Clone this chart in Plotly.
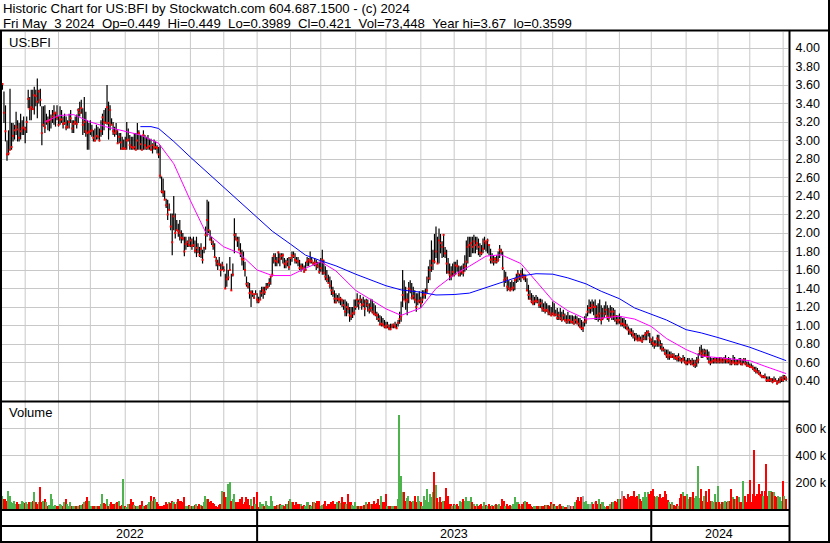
import plotly.graph_objects as go
import pandas as pd

# ---------------- data ----------------
high = [
3.62,3.53,3.38,3.00,3.11,3.56,3.19,3.19,3.17,3.31,
3.22,3.19,3.29,3.22,3.26,3.15,3.26,3.55,3.47,3.55,
3.55,3.58,3.55,3.67,3.55,3.56,3.37,3.37,3.38,3.29,
3.26,3.33,3.28,3.33,3.38,3.31,3.38,3.26,3.37,3.33,
3.26,3.29,3.26,3.22,3.29,3.33,3.22,3.22,3.26,3.28,
3.35,3.42,3.44,3.35,3.47,3.31,3.22,3.19,3.22,3.17,
3.11,3.13,3.17,3.15,3.13,3.22,3.29,3.33,3.35,3.60,
3.42,3.38,3.24,3.20,3.15,3.19,3.11,3.08,3.08,3.04,
3.01,3.04,3.20,3.13,3.06,3.04,3.04,3.08,3.08,3.19,
3.11,3.06,3.06,3.11,3.06,3.04,3.06,3.02,3.02,2.97,
3.01,2.99,2.95,2.93,2.95,2.61,2.59,2.46,2.37,2.36,
2.32,2.21,2.21,2.40,2.21,2.14,2.10,2.14,2.03,2.00,
1.96,1.96,1.92,1.96,1.96,1.94,1.96,1.92,1.96,1.89,
1.85,1.89,1.82,1.85,2.07,2.36,2.34,2.03,1.96,1.92,
1.89,1.74,1.71,1.74,1.67,1.69,1.64,1.56,1.67,1.60,
1.74,1.56,1.67,2.16,2.00,1.96,1.96,1.89,1.82,1.80,
1.69,1.53,1.47,1.46,1.38,1.38,1.35,1.38,1.35,1.31,
1.38,1.42,1.42,1.42,1.46,1.46,1.51,1.53,1.74,1.78,
1.78,1.74,1.80,1.78,1.78,1.78,1.73,1.71,1.73,1.74,
1.74,1.80,1.80,1.78,1.74,1.74,1.71,1.67,1.67,1.65,
1.69,1.74,1.73,1.80,1.74,1.69,1.73,1.71,1.69,1.69,
1.73,1.82,1.71,1.64,1.60,1.55,1.53,1.49,1.42,1.38,
1.35,1.33,1.35,1.31,1.29,1.28,1.28,1.26,1.24,1.20,
1.20,1.20,1.28,1.28,1.35,1.28,1.33,1.29,1.31,1.28,
1.29,1.28,1.24,1.29,1.28,1.24,1.22,1.15,1.13,1.11,
1.10,1.08,1.06,1.04,1.04,1.01,1.02,1.02,1.02,1.04,
1.02,1.06,1.15,1.26,1.60,1.49,1.42,1.35,1.47,1.49,
1.46,1.42,1.38,1.35,1.35,1.37,1.31,1.38,1.38,1.40,
1.53,1.64,1.71,1.92,1.82,1.99,2.07,1.96,2.05,1.99,
1.91,1.99,1.85,1.82,1.73,1.67,1.64,1.67,1.69,1.69,
1.71,1.65,1.64,1.65,1.67,1.76,1.92,1.96,1.96,1.96,
1.96,1.98,1.96,1.96,1.94,1.89,1.87,1.94,1.96,1.92,
1.94,1.87,1.83,1.78,1.76,1.74,1.76,1.80,1.87,1.83,
1.80,1.60,1.58,1.53,1.49,1.47,1.49,1.47,1.51,1.56,
1.60,1.56,1.60,1.62,1.56,1.55,1.51,1.44,1.38,1.35,
1.33,1.31,1.33,1.31,1.29,1.29,1.28,1.24,1.26,1.24,
1.22,1.22,1.20,1.26,1.24,1.17,1.19,1.15,1.19,1.15,
1.17,1.13,1.11,1.15,1.11,1.11,1.11,1.10,1.11,1.10,
1.08,1.08,1.06,1.04,1.10,1.13,1.22,1.28,1.26,1.28,
1.26,1.28,1.22,1.24,1.28,1.22,1.19,1.22,1.26,1.22,
1.19,1.22,1.20,1.19,1.17,1.11,1.11,1.13,1.10,1.08,
1.08,1.06,1.02,0.99,0.97,0.97,0.95,0.92,0.92,0.90,
0.90,0.88,0.90,0.90,0.93,0.95,0.95,0.92,0.86,0.88,
0.84,0.84,0.90,0.90,0.84,0.81,0.77,0.75,0.74,0.74,
0.72,0.72,0.70,0.70,0.68,0.68,0.70,0.66,0.65,0.68,
0.66,0.63,0.65,0.65,0.63,0.65,0.63,0.63,0.66,0.70,
0.77,0.79,0.75,0.75,0.74,0.74,0.72,0.66,0.65,0.65,
0.66,0.65,0.65,0.66,0.66,0.65,0.66,0.68,0.65,0.66,
0.65,0.63,0.68,0.66,0.63,0.63,0.65,0.65,0.63,0.65,
0.65,0.61,0.61,0.59,0.59,0.57,0.555,0.555,0.54,0.52,
0.50,0.465,0.465,0.48,0.45,0.45,0.45,0.43,0.43,0.45,
0.43,0.41,0.43,0.45,0.45,0.465,0.465,0.449]

low = [
3.55,3.19,2.99,2.78,2.84,2.90,2.90,2.99,3.01,3.06,
2.99,2.99,3.01,3.06,3.06,2.97,3.08,3.35,3.22,3.22,
3.33,3.28,3.37,3.24,3.40,3.37,2.95,3.15,3.08,3.17,
3.11,3.10,3.13,3.19,3.17,3.15,3.22,3.15,3.17,3.19,
3.13,3.17,3.11,3.13,3.13,3.19,3.08,3.08,3.17,3.13,
3.19,3.26,3.29,3.06,3.08,3.04,2.90,2.90,3.06,3.04,
2.99,2.99,3.01,3.01,2.99,3.04,3.06,3.11,3.19,3.17,
3.01,3.11,3.17,3.06,3.04,3.06,2.97,2.97,2.90,2.90,
2.90,2.90,2.90,2.99,2.90,2.90,2.90,2.90,2.90,2.90,
2.90,2.90,2.90,2.90,2.90,2.90,2.90,2.90,2.90,2.86,
2.90,2.90,2.86,2.81,2.59,2.43,2.39,2.36,2.27,2.14,
2.25,2.03,1.76,2.03,1.94,2.03,1.96,1.92,1.89,1.92,
1.75,1.82,1.85,1.85,1.85,1.82,1.85,1.78,1.74,1.78,
1.74,1.73,1.67,1.78,1.82,1.96,2.00,1.92,1.87,1.82,
1.74,1.64,1.60,1.64,1.53,1.60,1.58,1.40,1.42,1.49,
1.60,1.38,1.53,1.78,1.92,1.85,1.82,1.74,1.65,1.60,
1.53,1.42,1.40,1.29,1.20,1.31,1.29,1.33,1.24,1.24,
1.28,1.31,1.29,1.33,1.38,1.40,1.42,1.44,1.53,1.67,
1.64,1.64,1.67,1.64,1.71,1.67,1.62,1.62,1.64,1.60,
1.65,1.69,1.73,1.67,1.67,1.64,1.60,1.58,1.60,1.58,
1.60,1.64,1.64,1.67,1.67,1.65,1.64,1.60,1.62,1.56,
1.58,1.55,1.55,1.49,1.47,1.46,1.40,1.33,1.31,1.24,
1.24,1.26,1.24,1.22,1.20,1.17,1.10,1.10,1.13,1.04,
1.06,1.08,1.11,1.17,1.20,1.17,1.24,1.17,1.20,1.10,
1.20,1.15,1.13,1.15,1.13,1.11,1.10,1.06,1.04,1.01,
0.99,0.99,0.97,0.97,0.97,0.95,0.95,0.97,0.97,0.97,
0.97,0.99,1.02,1.04,1.20,1.28,1.17,1.11,1.24,1.35,
1.28,1.28,1.24,1.15,1.22,1.24,1.19,1.24,1.29,1.29,
1.35,1.46,1.49,1.58,1.60,1.67,1.73,1.67,1.67,1.78,
1.73,1.74,1.73,1.56,1.56,1.49,1.49,1.53,1.53,1.55,
1.58,1.53,1.53,1.55,1.53,1.58,1.60,1.67,1.74,1.74,
1.78,1.78,1.78,1.82,1.76,1.74,1.76,1.78,1.82,1.80,
1.78,1.76,1.67,1.67,1.65,1.67,1.67,1.69,1.73,1.76,
1.60,1.42,1.46,1.37,1.38,1.37,1.38,1.37,1.38,1.46,
1.47,1.49,1.47,1.51,1.49,1.47,1.37,1.28,1.28,1.24,
1.22,1.22,1.24,1.24,1.19,1.19,1.15,1.15,1.13,1.15,
1.11,1.11,1.10,1.11,1.10,1.10,1.06,1.06,1.06,1.04,
1.06,1.04,1.02,1.02,1.02,1.02,1.02,1.01,1.02,1.01,
0.99,0.97,0.95,0.93,0.99,1.02,1.10,1.13,1.13,1.15,
1.11,1.06,1.06,1.04,1.06,1.01,1.06,1.08,1.11,1.06,
1.04,1.08,1.06,1.06,1.04,1.01,1.01,1.02,0.99,0.99,
0.97,0.96,0.95,0.90,0.90,0.88,0.86,0.83,0.84,0.83,
0.83,0.83,0.81,0.84,0.84,0.84,0.88,0.81,0.79,0.77,
0.75,0.77,0.77,0.77,0.74,0.72,0.72,0.68,0.65,0.63,
0.63,0.65,0.65,0.63,0.63,0.61,0.61,0.61,0.59,0.61,
0.59,0.57,0.57,0.59,0.57,0.57,0.555,0.54,0.555,0.59,
0.68,0.65,0.65,0.66,0.66,0.63,0.59,0.57,0.59,0.59,
0.59,0.59,0.59,0.59,0.59,0.59,0.59,0.59,0.59,0.59,
0.57,0.57,0.59,0.57,0.57,0.57,0.59,0.57,0.57,0.59,
0.57,0.555,0.555,0.54,0.54,0.52,0.50,0.48,0.48,0.465,
0.45,0.43,0.43,0.43,0.39,0.39,0.39,0.39,0.375,0.39,
0.39,0.3599,0.375,0.375,0.39,0.39,0.41,0.3989]

close = [
3.61,3.30,3.10,2.85,2.86,2.90,2.93,3.05,3.11,3.15,
3.12,3.03,3.10,3.13,3.14,3.12,3.20,3.45,3.34,3.36,
3.34,3.49,3.48,3.42,3.53,3.44,3.08,3.17,3.14,3.21,
3.20,3.22,3.23,3.26,3.29,3.30,3.25,3.17,3.22,3.23,
3.18,3.19,3.14,3.15,3.20,3.24,3.13,3.18,3.20,3.18,
3.33,3.30,3.35,3.17,3.20,3.10,3.08,3.09,3.10,3.11,
3.03,3.00,3.05,3.04,3.00,3.10,3.25,3.20,3.19,3.36,
3.19,3.33,3.17,3.10,3.08,3.10,2.97,3.04,2.98,2.91,
2.92,2.91,3.00,3.01,2.95,2.93,2.92,2.93,2.90,3.00,
3.08,2.96,2.90,3.06,2.95,2.92,2.93,2.94,2.90,2.95,
2.92,2.93,2.92,2.85,2.62,2.45,2.44,2.36,2.30,2.20,
2.25,2.07,1.90,2.18,2.00,2.03,2.02,2.00,1.95,1.94,
1.80,1.88,1.90,1.87,1.92,1.86,1.87,1.81,1.84,1.80,
1.76,1.83,1.71,1.84,1.98,2.14,2.03,1.93,1.90,1.86,
1.74,1.70,1.67,1.66,1.60,1.65,1.60,1.40,1.50,1.52,
1.60,1.38,1.55,1.98,1.94,1.92,1.82,1.78,1.72,1.71,
1.60,1.45,1.42,1.35,1.36,1.34,1.30,1.34,1.28,1.26,
1.28,1.35,1.38,1.36,1.41,1.42,1.46,1.53,1.55,1.75,
1.70,1.69,1.79,1.72,1.75,1.76,1.67,1.66,1.69,1.63,
1.73,1.76,1.75,1.71,1.70,1.69,1.62,1.64,1.62,1.58,
1.60,1.69,1.71,1.69,1.70,1.67,1.68,1.66,1.64,1.58,
1.62,1.71,1.57,1.53,1.50,1.46,1.43,1.38,1.35,1.29,
1.25,1.29,1.28,1.29,1.27,1.22,1.15,1.20,1.18,1.11,
1.10,1.13,1.14,1.20,1.28,1.24,1.28,1.22,1.23,1.18,
1.26,1.22,1.17,1.19,1.15,1.13,1.12,1.11,1.07,1.01,
1.02,1.01,0.99,0.98,1.00,0.97,0.96,0.99,1.01,0.99,
0.97,1.03,1.07,1.10,1.33,1.28,1.26,1.28,1.40,1.38,
1.30,1.32,1.28,1.20,1.26,1.27,1.24,1.28,1.33,1.34,
1.38,1.51,1.60,1.65,1.70,1.69,1.80,1.67,1.92,1.89,
1.85,1.98,1.78,1.67,1.58,1.55,1.53,1.58,1.55,1.65,
1.64,1.55,1.58,1.59,1.57,1.64,1.69,1.85,1.87,1.89,
1.85,1.91,1.87,1.89,1.85,1.79,1.78,1.83,1.91,1.89,
1.92,1.87,1.71,1.72,1.69,1.72,1.69,1.71,1.82,1.80,
1.62,1.49,1.51,1.42,1.40,1.38,1.40,1.41,1.49,1.51,
1.56,1.52,1.55,1.53,1.51,1.53,1.38,1.33,1.29,1.26,
1.24,1.26,1.27,1.26,1.22,1.24,1.19,1.17,1.16,1.17,
1.15,1.13,1.11,1.13,1.11,1.12,1.08,1.11,1.08,1.06,
1.11,1.06,1.04,1.06,1.06,1.04,1.04,1.02,1.06,1.04,
1.02,0.99,0.97,0.97,1.04,1.06,1.15,1.19,1.19,1.22,
1.20,1.20,1.11,1.10,1.13,1.06,1.08,1.13,1.17,1.10,
1.08,1.15,1.10,1.15,1.10,1.06,1.04,1.06,1.02,1.02,
1.01,1.00,0.97,0.95,0.93,0.92,0.90,0.88,0.86,0.84,
0.86,0.84,0.83,0.86,0.90,0.92,0.93,0.86,0.84,0.81,
0.79,0.80,0.86,0.84,0.79,0.75,0.74,0.70,0.68,0.66,
0.68,0.66,0.68,0.66,0.65,0.64,0.66,0.63,0.62,0.64,
0.61,0.59,0.60,0.61,0.59,0.61,0.57,0.58,0.61,0.63,
0.72,0.70,0.68,0.72,0.68,0.66,0.61,0.60,0.61,0.62,
0.63,0.61,0.63,0.61,0.63,0.61,0.63,0.64,0.61,0.62,
0.61,0.59,0.61,0.59,0.60,0.59,0.61,0.59,0.58,0.63,
0.59,0.57,0.565,0.555,0.55,0.54,0.52,0.51,0.50,0.48,
0.465,0.445,0.45,0.44,0.41,0.40,0.41,0.42,0.39,0.41,
0.40,0.375,0.39,0.41,0.43,0.41,0.445,0.421]

volume_k = [
100,75,75,60, 138,100,50,45, 63,38,50,40, 38,63,50,45, 50,38,50,55,
63,125,50,40, 50,163,50,60, 75,50,25,30, 113,75,25,30, 25,25,38,30,
25,50,75,35, 25,50,25,22, 20,20,25,28, 30,38,50,60, 93,63,25,25,
25,20,25,22, 25,38,113,45, 38,75,25,40, 50,38,38,45, 50,63,25,30,
225,25,13,35, 38,75,50,30, 25,25,25,30, 63,25,25,30, 38,50,100,60,
88,75,50,40, 25,25,25,30, 50,38,50,45, 63,50,38,50, 75,63,63,55,
88,25,25,30, 25,20,25,30, 38,25,38,30, 25,50,100,75, 75,50,63,45,
38,25,8,30, 38,138,125,90, 88,188,200,63, 75,113,50,50, 50,75,88,40,
50,88,75,30, 75,25,88,35, 125,13,50,38, 38,25,63,30, 25,100,63,25,
25,33,33,40, 33,33,25,40, 38,63,75,50, 50,33,50,35, 38,38,25,30,
25,50,50,30, 25,50,55,45, 63,63,25,30, 38,63,25,35, 38,50,63,40,
38,50,63,45, 88,50,50,40, 113,50,50,30, 25,50,20,25, 25,20,25,30,
50,38,50,35, 38,63,38,45, 75,33,100,50, 50,113,25,25, 25,25,25,20,
20,75,700,250, 125,125,63,80, 100,63,50,60, 100,50,100,60, 50,25,100,70,
150,50,113,90, 125,280,180,80, 50,88,50,60, 63,155,100,40, 38,25,38,30,
38,25,63,50, 75,63,88,60, 63,88,50,35, 25,38,25,30, 38,25,50,30,
25,38,25,30, 25,30,38,30, 38,20,75,63, 25,38,25,30, 25,38,88,50,
50,38,25,40, 50,63,50,40, 38,25,13,20, 20,20,25,20, 25,20,30,30,
30,25,50,35, 38,25,25,30, 38,20,25,15, 13,30,30,20, 20,25,50,70,
88,63,88,100, 50,63,38,40, 38,50,38,50, 63,38,75,40, 50,20,13,20,
25,38,50,55, 63,50,75,75, 75,138,100,80, 75,113,88,100, 100,138,88,100,
113,75,63,90, 125,88,125,110, 138,150,100,90, 100,88,113,80, 88,138,113,70,
50,38,50,30, 25,38,25,80, 113,125,100,100, 113,75,88,90, 125,80,100,325,
80,150,63,100, 138,50,150,63, 63,50,113,50, 170,50,38,50, 50,63,50,63,
63,150,88,75, 75,100,88,50, 50,213,100,50, 113,220,50,113, 438,100,113,188,
113,138,100,138, 338,100,138,138, 125,125,100,88, 100,88,63,213, 100,73]

ma_fast_dates = [
"2022-06-20","2022-07-01","2022-07-15","2022-08-01","2022-08-15","2022-09-01","2022-09-15",
"2022-10-03","2022-10-17","2022-11-01","2022-11-15","2022-12-01","2022-12-15",
"2023-01-02","2023-01-16","2023-02-01","2023-02-15","2023-03-01","2023-03-15","2023-04-03",
"2023-04-17","2023-05-01","2023-05-15","2023-06-01","2023-06-15","2023-07-03","2023-07-17",
"2023-08-01","2023-08-15","2023-09-01","2023-09-15","2023-10-02","2023-10-16","2023-11-01",
"2023-11-15","2023-12-01","2023-12-15","2024-01-01","2024-01-15","2024-02-01","2024-02-15",
"2024-03-01","2024-03-15","2024-04-01","2024-04-15","2024-05-03"]
ma_fast = [3.20,3.27,3.28,3.20,3.15,3.10,3.06,2.97,2.75,2.35,2.01,1.85,1.785,
           1.60,1.54,1.54,1.62,1.69,1.59,1.38,1.28,1.18,1.11,1.19,1.40,1.55,1.64,
           1.75,1.765,1.67,1.48,1.27,1.16,1.07,1.08,1.10,1.07,
           0.99,0.86,0.74,0.67,0.65,0.635,0.62,0.56,0.48]

ma_slow_dates = [
"2022-09-15","2022-09-26","2022-10-03","2022-10-17","2022-11-01","2022-11-15","2022-12-01","2022-12-15",
"2023-01-02","2023-01-16","2023-02-01","2023-02-15","2023-03-01","2023-03-15","2023-04-03",
"2023-04-17","2023-05-01","2023-05-15","2023-06-01","2023-06-15","2023-07-03","2023-07-17",
"2023-08-01","2023-08-15","2023-09-01","2023-09-15","2023-10-02","2023-10-16","2023-11-01",
"2023-11-15","2023-12-01","2023-12-15","2024-01-01","2024-01-15","2024-02-01","2024-02-15",
"2024-03-01","2024-03-15","2024-04-01","2024-04-15","2024-05-03"]
ma_slow = [3.15,3.15,3.13,2.99,2.82,2.67,2.49,2.35,
           2.16,2.02,1.88,1.76,1.70,1.645,1.555,1.49,1.43,1.385,1.36,1.33,1.335,1.35,
           1.41,1.47,1.535,1.56,1.555,1.515,1.45,1.37,1.29,1.19,
           1.12,1.06,0.955,0.92,0.87,0.82,0.765,0.705,0.62]

price_ticks = [0.4,0.6,0.8,1.0,1.2,1.4,1.6,1.8,2.0,2.2,2.4,2.6,2.8,3.0,3.2,3.4,3.6,3.8,4.0]
vol_ticks = [200000, 400000, 600000]
vol_tick_text = ["200 k", "400 k", "600 k"]

header1 = "Historic Chart for US:BFI by Stockwatch.com 604.687.1500 - (c) 2024"
header2 = ("Fri May\u00a0\u00a03 2024\u00a0\u00a0Op=0.449\u00a0\u00a0Hi=0.449\u00a0\u00a0Lo=0.3989"
           "\u00a0\u00a0Cl=0.421\u00a0\u00a0Vol=73,448\u00a0\u00a0Year hi=3.67\u00a0\u00a0lo=0.3599")
symbol = "US:BFI"

# ---------------- figure ----------------
W, H = 830, 543
FONT = "Liberation Sans, Arial, sans-serif"
def px(x): return x / W
def py(y): return 1 - y / H

n = min(len(high), len(low), len(close), len(volume_k))
high, low, close, volume_k = high[-n:], low[-n:], close[-n:], volume_k[-n:]
dates = pd.bdate_range(end="2024-05-03", periods=n)

GREEN, RED, GREY = "#4db34d", "#ff0000", "#a8a8a8"
vcol = []
for i in range(n):
    if i == 0 or close[i] > close[i - 1]:
        vcol.append(GREEN)
    elif close[i] < close[i - 1]:
        vcol.append(RED)
    else:
        vcol.append(GREY)

bx, by = [], []
for d, h, l in zip(dates, high, low):
    bx += [d, d, None]
    by += [l, h, None]

fig = go.Figure()
fig.add_trace(go.Scatter(x=bx, y=by, mode="lines", line=dict(color="black", width=1.2),
                         xaxis="x", yaxis="y", hoverinfo="skip", showlegend=False))
fig.add_trace(go.Scatter(x=dates, y=close, mode="markers",
                         marker=dict(symbol="square", size=2, color="#ff0000", line=dict(width=0)),
                         xaxis="x", yaxis="y", hoverinfo="skip", showlegend=False))
fig.add_trace(go.Scatter(x=ma_fast_dates, y=ma_fast, mode="lines", line=dict(color="#ff00ff", width=1),
                         xaxis="x", yaxis="y", hoverinfo="skip", showlegend=False))
fig.add_trace(go.Scatter(x=ma_slow_dates, y=ma_slow, mode="lines", line=dict(color="#0000ff", width=1),
                         xaxis="x", yaxis="y", hoverinfo="skip", showlegend=False))
fig.add_trace(go.Bar(x=dates, y=[v * 1000 for v in volume_k], marker=dict(color=vcol, line=dict(width=0)),
                     xaxis="x2", yaxis="y2", hoverinfo="skip", showlegend=False))

xr = ["2022-05-10 17:00", "2024-05-06 05:00"]
common_x = dict(type="date", range=xr, rangebreaks=[dict(bounds=["sat", "mon"])],
                showgrid=False, showticklabels=False, ticks="", zeroline=False, showline=False,
                domain=[px(2), px(788)])
grid = "#c8c8c8"
tickfont = dict(family=FONT, size=12.5, color="black")

fig.update_layout(
    width=W, height=H, margin=dict(l=0, r=0, t=0, b=0, autoexpand=False),
    paper_bgcolor="white", plot_bgcolor="white", bargap=0,
    xaxis=dict(common_x, anchor="y"),
    xaxis2=dict(common_x, anchor="y2", matches="x"),
    yaxis=dict(domain=[py(401), py(32)], range=[0.184, 4.173], side="right", anchor="x",
               tickvals=price_ticks, ticktext=["%.2f" % v for v in price_ticks],
               showgrid=True, gridcolor=grid, gridwidth=1, zeroline=False, showline=False,
               ticks="outside", ticklen=4, tickcolor="rgba(0,0,0,0)", tickfont=tickfont,
               automargin=False),
    yaxis2=dict(domain=[py(509), py(402)], range=[0, 800000], side="right", anchor="x2",
                tickvals=vol_ticks, ticktext=vol_tick_text,
                showgrid=True, gridcolor=grid, gridwidth=1, zeroline=False, showline=False,
                ticks="outside", ticklen=4, tickcolor="rgba(0,0,0,0)", tickfont=tickfont,
                automargin=False),
)

shapes = []
# monthly vertical grid lines (first trading day of each month)
s = pd.Series(dates, index=dates)
month_first = s.groupby([dates.year, dates.month]).min().tolist()[1:]
for d in month_first:
    for (y0, y1) in [(401, 32), (509, 402)]:
        shapes.append(dict(type="line", xref="x", yref="paper", x0=d, x1=d, y0=py(y0), y1=py(y1),
                           line=dict(color=grid, width=1), layer="below"))

def hline(y, x0, x1, w=2):
    shapes.append(dict(type="line", xref="paper", yref="paper", x0=px(x0), x1=px(x1), y0=py(y), y1=py(y),
                       line=dict(color="black", width=w), layer="above"))
def vline(x, y0, y1, w=2):
    shapes.append(dict(type="line", xref="paper", yref="paper", x0=px(x), x1=px(x), y0=py(y0), y1=py(y1),
                       line=dict(color="black", width=w), layer="above"))

hline(30.5, 0, 830)
hline(401.5, 0, 789)
hline(510, 0, 789)
hline(526, 0, 789)
hline(542, 0, 830)
vline(1, 30, 543)
vline(789.5, 30, 543)
vline(829, 0, 543)

# year separators in the date rows
year_starts = [d for d in month_first if d.month == 1]
for d in year_starts:
    shapes.append(dict(type="line", xref="x", yref="paper", x0=d, x1=d, y0=py(510), y1=py(542),
                       line=dict(color="black", width=2), layer="above"))
fig.update_layout(shapes=shapes)

# annotations
ann = []
ann.append(dict(text=header1, x=px(2), y=py(8.5), xref="paper", yref="paper", xanchor="left",
                yanchor="middle", showarrow=False, borderpad=0,
                font=dict(family=FONT, size=13.2, color="black")))
ann.append(dict(text=header2, x=px(2), y=py(23.2), xref="paper", yref="paper", xanchor="left",
                yanchor="middle", showarrow=False, borderpad=0,
                font=dict(family=FONT, size=13.2, color="black")))
ann.append(dict(text=symbol, x=px(7), y=py(42), xref="paper", yref="paper", xanchor="left",
                yanchor="middle", showarrow=False, font=dict(family=FONT, size=13, color="black")))
ann.append(dict(text="Volume", x=px(7), y=py(413), xref="paper", yref="paper", xanchor="left",
                yanchor="middle", showarrow=False, font=dict(family=FONT, size=13, color="black")))

idx = [0] + [list(dates).index(d) for d in year_starts] + [n]
for a, b in zip(idx[:-1], idx[1:]):
    mid = dates[(a + b) // 2]
    ann.append(dict(text=str(dates[a].year), x=mid, y=py(534), xref="x", yref="paper",
                    xanchor="center", yanchor="middle", showarrow=False,
                    font=dict(family=FONT, size=12.5, color="black")))
fig.update_layout(annotations=ann)

fig.write_html("out.html", config={"displayModeBar": False},
               post_script="document.body.style.margin='0px';document.body.style.padding='0px';")
